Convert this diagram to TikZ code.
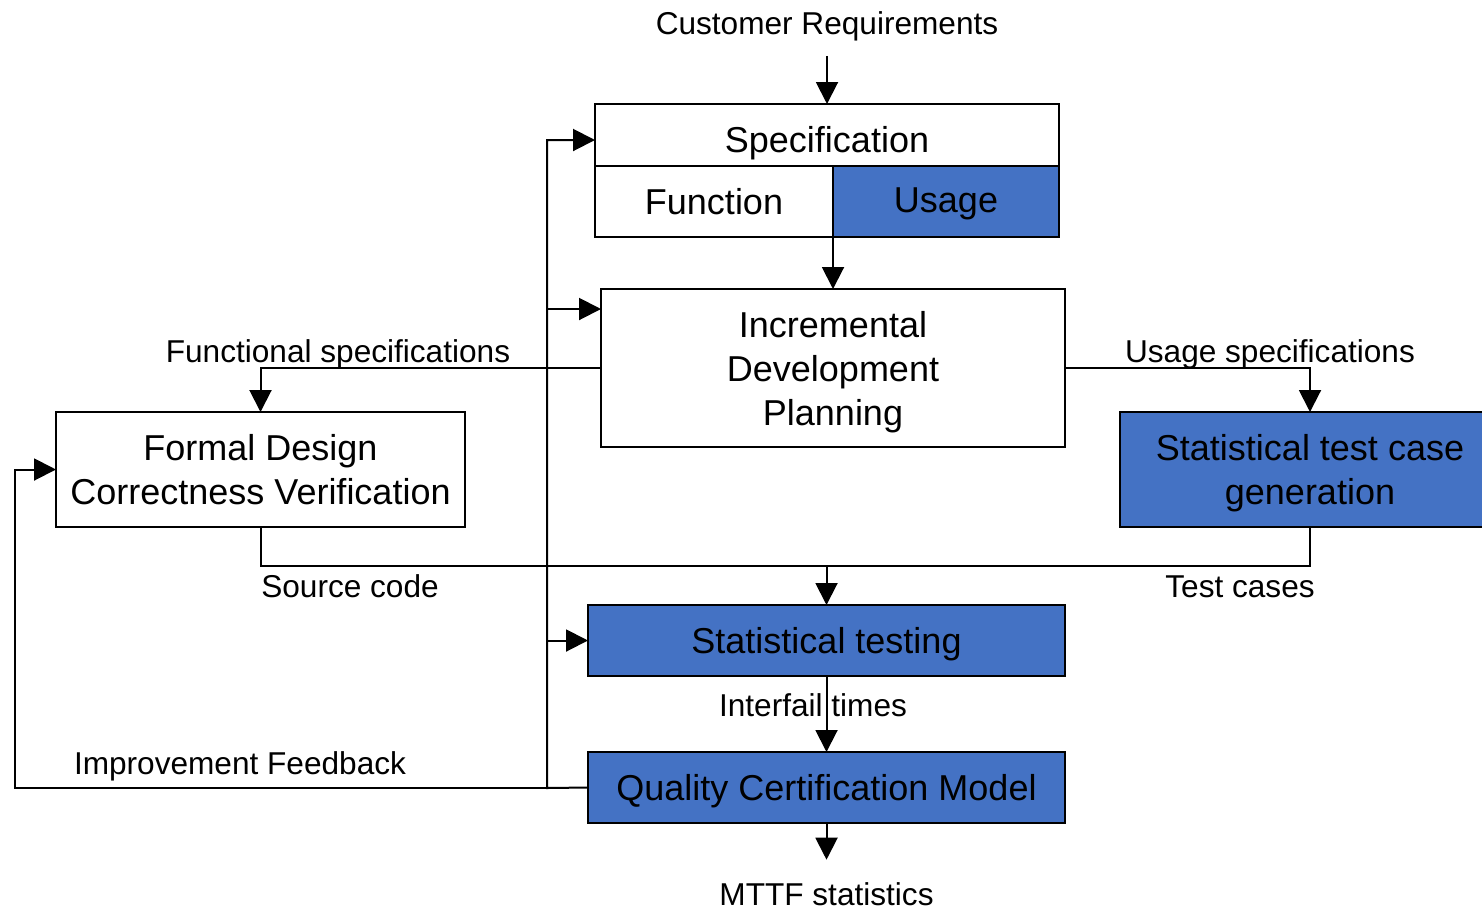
\documentclass[tikz,border=0pt]{standalone}
\usepackage{fontspec}
\setmainfont{Liberation Sans}
\usetikzlibrary{arrows.meta, positioning}
\definecolor{usageblue}{RGB}{68, 114, 196}

\begin{document}
\begin{tikzpicture}[
    x=0.5pt, y=-0.5pt,
    box/.style={rectangle, draw=black, line width=1pt, inner sep=0pt, outer sep=0pt,
                align=center, text depth=0pt, font=\fontsize{18}{22}\selectfont},
    bluebox/.style={box, fill=usageblue},
    lbl/.style={inner sep=0pt, anchor=base, font=\fontsize{15.8}{19}\selectfont},
    arr/.style={line width=1pt, -{Triangle[length=11pt, width=11pt]}},
    link/.style={line width=1pt}
]
    \useasboundingbox (0,0) rectangle (1482,911);
    % boxes
    \node[box, minimum width=232pt, minimum height=31pt, text height=17pt] (spec) at (827,135) {Specification};
    \node[box, minimum width=119pt, minimum height=35.5pt, anchor=north west] (func) at (spec.south west) {Function};
    \node[bluebox, minimum width=113pt, minimum height=35.5pt, text depth=1pt, anchor=north west] (usage) at (func.north east) {Usage};
    \node[box, minimum width=232pt, minimum height=79pt] (idp) at (833,368) {Incremental\\Development\\Planning};
    \node[box, minimum width=204.5pt, minimum height=57.5pt] (fdcv) at (260.5,469.5) {Formal Design\\Correctness Verification};
    \node[bluebox, minimum width=190pt, minimum height=57.5pt] (stcg) at (1310,469.5) {Statistical test case\\generation};
    \node[bluebox, minimum width=238.5pt, minimum height=35.5pt] (test) at (826.5,640.5) {Statistical testing};
    \node[bluebox, minimum width=238.5pt, minimum height=35.5pt] (qcm) at (826.5,787.5) {Quality Certification Model};

    % labels
    \node[lbl] (custreq) at (827,34) {Customer Requirements};
    \node[lbl] (funcspec) at (338,362) {Functional specifications};
    \node[lbl] (usespec) at (1270,362) {Usage specifications};
    \node[lbl] (srccode) at (350,597) {Source code};
    \node[lbl] (testcases) at (1240,597) {Test cases};
    \node[lbl] (interfail) at (813,716) {Interfail times};
    \node[lbl] (mttf) at (826.5,905) {MTTF statistics};
    \node[lbl] (improve) at (240,774) {Improvement Feedback};

    % main flow
    \draw[arr] ([yshift=-7.5pt]custreq.south) -- (spec.north);
    \draw[arr] (usage.south west) -- (idp.north);
    \draw[arr] (idp.west) -| (fdcv.north);
    \draw[arr] (idp.east) -| (stcg.north);
    \coordinate (merge) at (826.5,566);
    \draw[link] (fdcv.south) |- (merge) -| (stcg.south);
    \draw[arr] (merge) -- (test.north);
    \draw[arr] (test.south) -- (qcm.north);
    \draw[arr] (qcm.south) -- ([yshift=11pt]mttf.north);

    % feedback loops
    \coordinate (fb) at (547,788);
    \coordinate (fbleft) at (15,788);
    \coordinate (specin) at ([yshift=-2.5pt]spec.west);
    \coordinate (idpin) at ([yshift=-10pt]idp.north west);
    \draw[arr] (qcm.west) -- (fb) |- (specin);
    \draw[arr] (fb |- idpin) -- (idpin);
    \draw[arr] (fb |- test.west) -- (test.west);
    \draw[arr] (fb) -- (fbleft) |- (fdcv.west);
\end{tikzpicture}
\end{document}
